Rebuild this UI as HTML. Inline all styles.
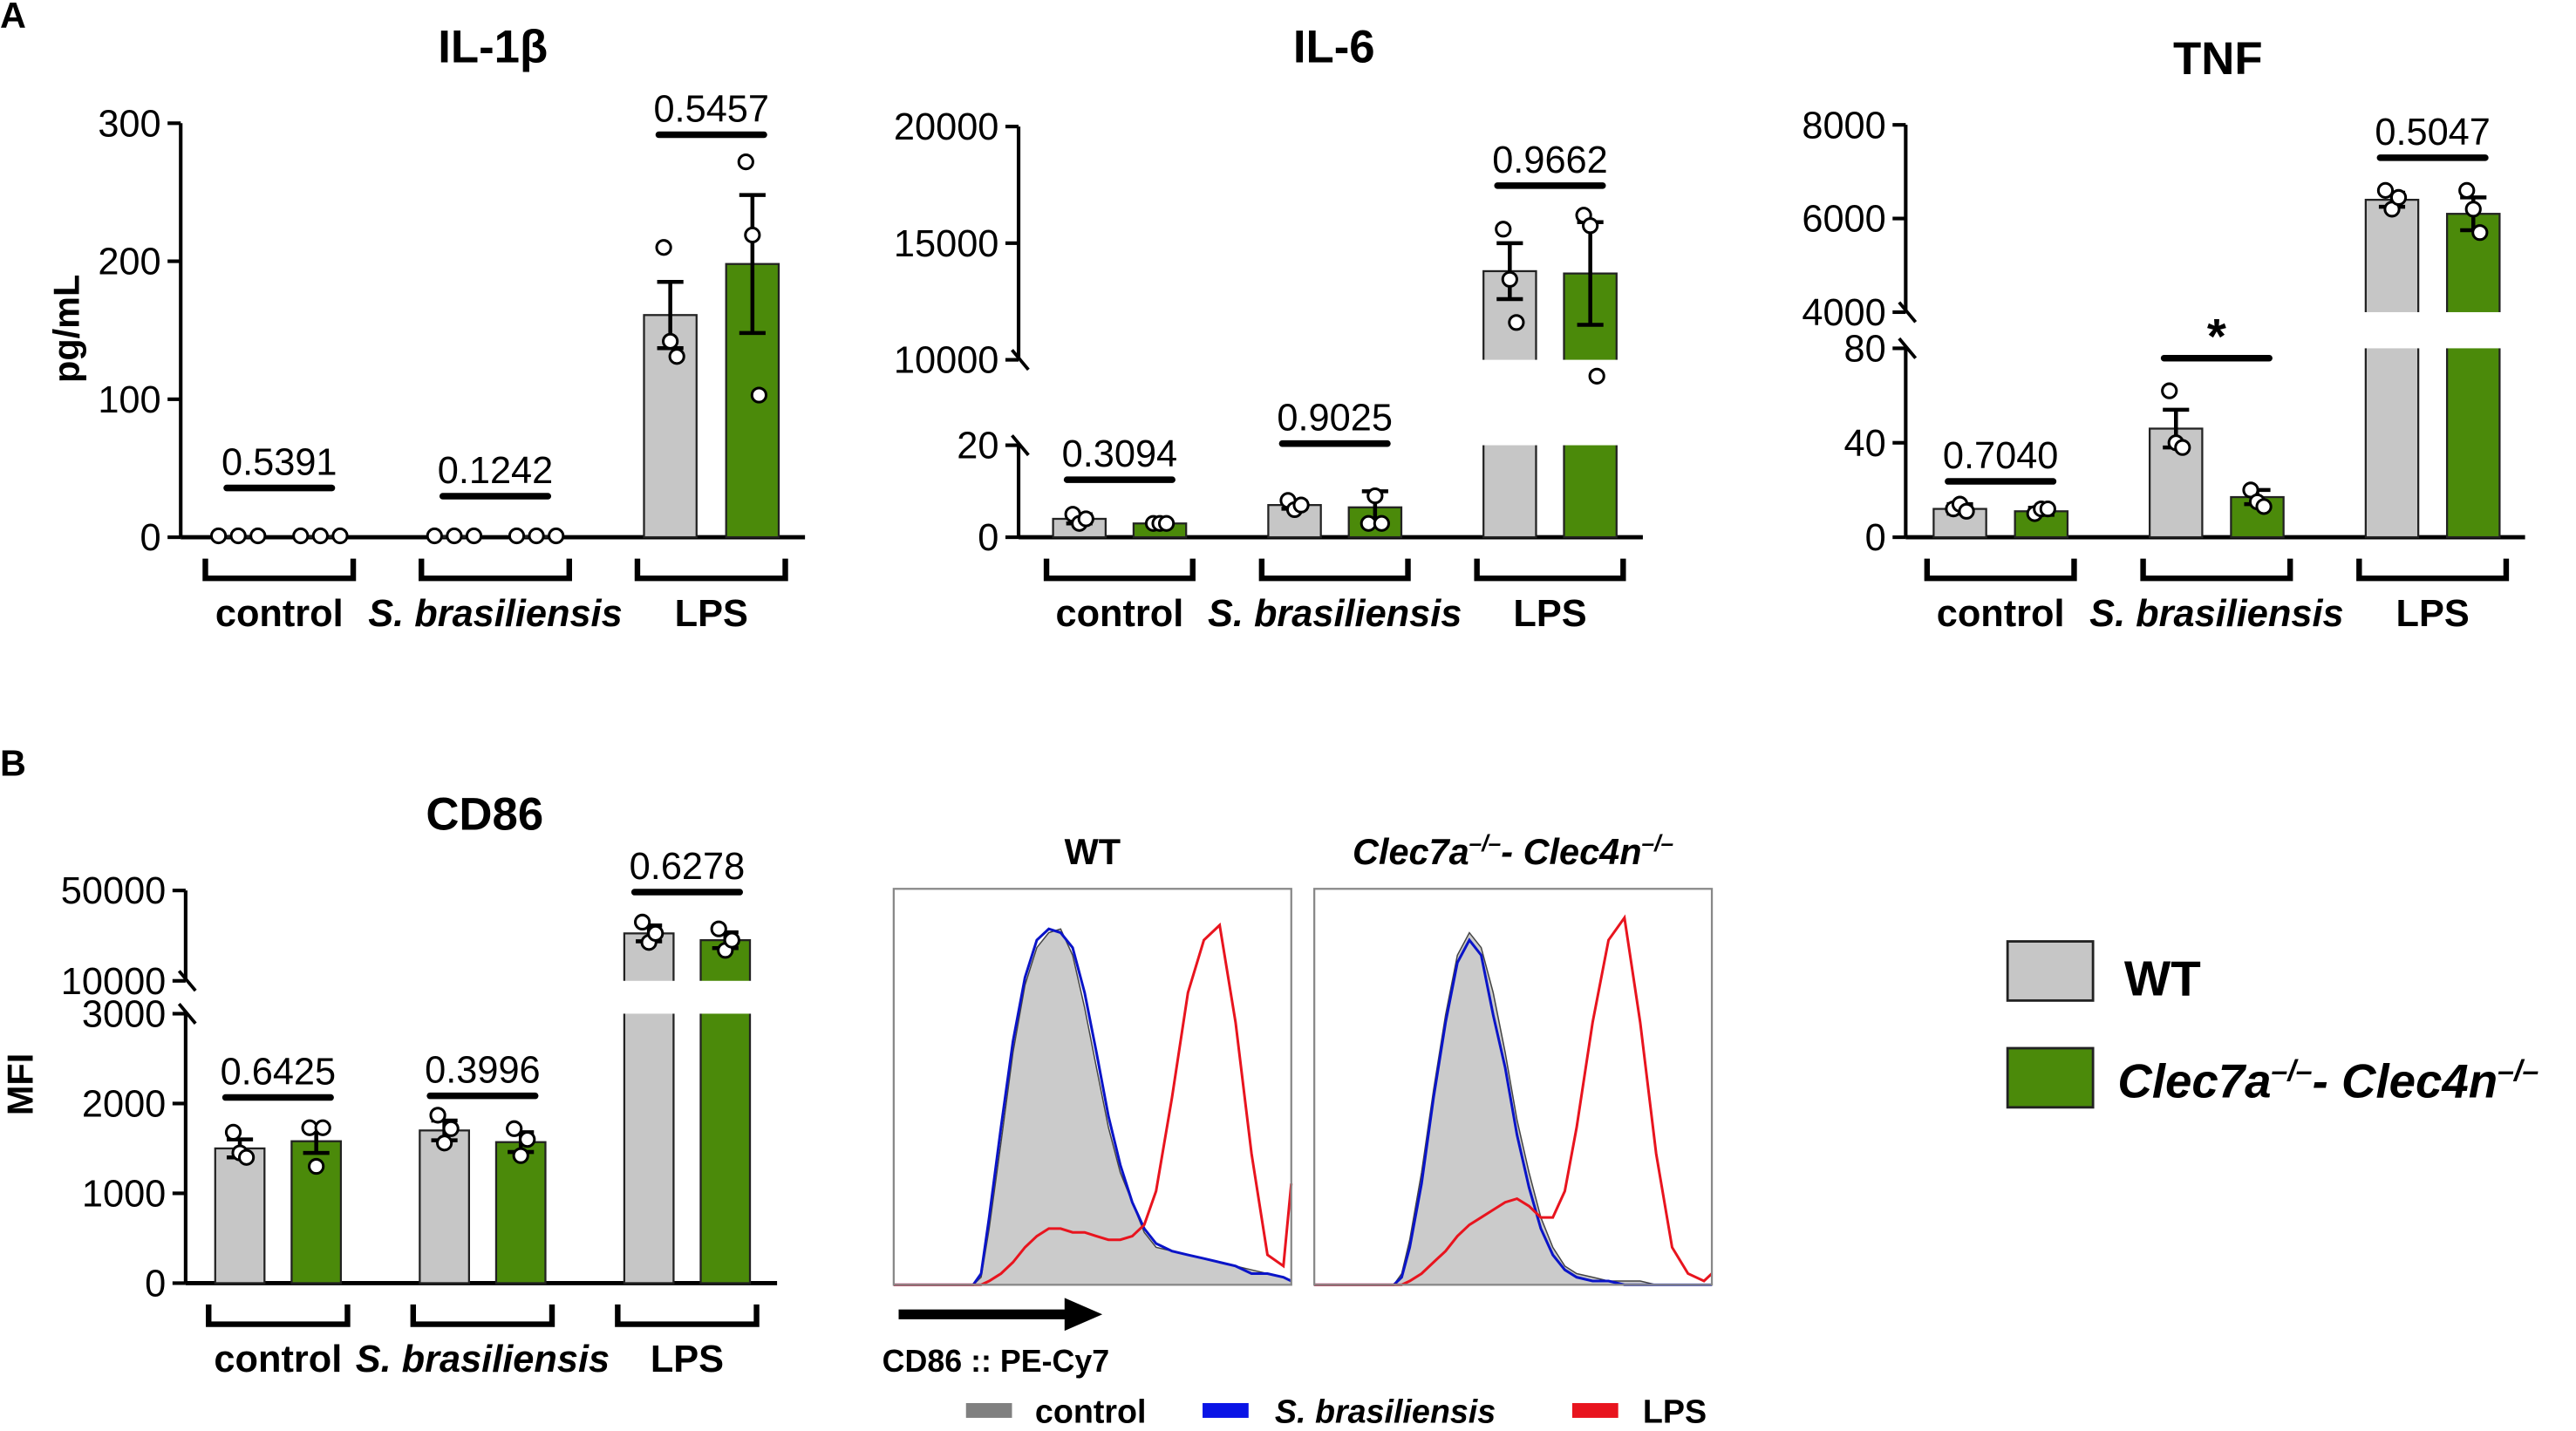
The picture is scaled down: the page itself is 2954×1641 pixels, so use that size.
<!DOCTYPE html>
<html><head><meta charset="utf-8"><style>
html,body{margin:0;padding:0;background:#fff;}
svg{display:block;}
text{font-family:"Liberation Sans Narrow","Liberation Sans",sans-serif;}
</style></head><body>
<svg id="fig" width="2954" height="1641" viewBox="0 0 1568 871" preserveAspectRatio="none" xmlns="http://www.w3.org/2000/svg">
<text x="0" y="17" font-size="22" font-weight="bold" font-family="Liberation Sans">A</text>
<text x="0" y="472" font-size="22" font-weight="bold" font-family="Liberation Sans">B</text>
<g id="charts"></g>
<g id="hists"></g>
</svg>
<script>
// ---------- DATA ----------
const groups = ["control", "S. brasiliensis", "LPS"];
const il1bWT = [1, 1, 161];
const il1bKO = [1, 1, 198];
const il1bWTerr = [0.5, 0.5, 24];
const il1bKOerr = [0.5, 0.5, 50];
const il1bWTpts = [[1,1,1],[1,1,1],[210,142,131]];
const il1bKOpts = [[1,1,1],[1,1,1],[272,219,103]];
const il1bP = ["0.5391","0.1242","0.5457"];
const il1bTicks = [0,100,200,300];

const il6WT = [4, 7, 13800];
const il6KO = [3, 6.5, 13700];
const il6WTerr = [1, 0.8, 1200];
const il6KOerr = [0.5, 3.5, 2200];
const il6WTpts = [[5,3,4],[8,6,7],[15600,13450,11600]];
const il6KOpts = [[3,3,3],[3,9,3],[16200,15750,9300]];
const il6P = ["0.3094","0.9025","0.9662"];
const il6Ticks = [0,20,10000,15000,20000];

const tnfWT = [12, 46, 6400];
const tnfKO = [11, 17, 6100];
const tnfWTerr = [2, 8, 150];
const tnfKOerr = [1.5, 3, 350];
const tnfWTpts = [[12,14,11],[62,40,38],[6600,6200,6450]];
const tnfKOpts = [[10,12,12],[20,15,13],[6600,6200,5700]];
const tnfP = ["0.7040","*","0.5047"];
const tnfTicks = [0,40,80,4000,6000,8000];

const cd86WT = [1500, 1700, 31000];
const cd86KO = [1580, 1570, 28000];
const cd86WTerr = [100, 110, 3500];
const cd86KOerr = [130, 110, 3500];
const cd86WTpts = [[1680,1450,1400],[1870,1560,1720],[36000,27000,31000]];
const cd86KOpts = [[1730,1300,1730],[1720,1420,1600],[33000,23500,28000]];
const cd86P = ["0.6425","0.3996","0.6278"];
const cd86Ticks = [0,1000,2000,3000,10000,50000];

// histogram data: channel (0-100 % of axis) and count (% of max)
const histChannel = [0,20,22,24,27,30,33,36,39,42,45,48,51,54,57,60,63,66,70,74,78,82,86,90,94,98,100];
const wtGray  = [0,0,2,15,38,62,80,90,94,95,88,74,58,42,30,22,14,10,9,8,7,6,5,4,3,2,1];
const wtBlue  = [0,0,3,18,42,65,82,92,95,94,90,78,62,45,32,22,15,11,9,8,7,6,5,3,3,2,1];
const wtRed   = [0,0,0,1,3,6,10,13,15,15,14,14,13,12,12,13,16,25,50,78,92,96,70,35,8,5,27];
const koGray  = [0,0,3,12,30,52,72,88,94,90,78,62,44,30,18,10,5,3,2,1,1,1,0,0,0,0,0];
const koBlue  = [0,0,2,10,27,50,70,86,92,88,72,58,40,26,15,8,4,2,1,1,0,0,0,0,0,0,0];
const koRed   = [0,0,0,1,3,6,9,13,16,18,20,22,23,21,18,18,25,42,70,92,98,70,35,10,3,1,3];

// ---------- DRAWING ----------
const NS = "http://www.w3.org/2000/svg";
const root = document.getElementById("charts");
function el(tag, attrs, parent, txt){
  const e = document.createElementNS(NS, tag);
  for (const k in attrs) e.setAttribute(k, attrs[k]);
  if (txt !== undefined) e.textContent = txt;
  (parent||root).appendChild(e);
  return e;
}
function lin(s, v){ return s.r[0] + (v - s.d[0])/(s.d[1]-s.d[0])*(s.r[1]-s.r[0]); }
function makeScale(segs){
  return function(v){
    for (const s of segs){
      if (v >= s.d[0] && v <= s.d[1]) return lin(s, v);
    }
    const last = segs[segs.length-1];
    if (v > last.d[1]) return lin(last, v);
    for (let i=0;i<segs.length-1;i++){
      if (v > segs[i].d[1] && v < segs[i+1].d[0]) return lin(segs[i+1], v);
    }
    return segs[0].r[0];
  };
}
function drawChart(cfg){
  const g = el("g", {}, root);
  
  
  const y = makeScale(cfg.segs);
  const base = cfg.segs[0].r[0];
  const t = el("text", {x:cfg.titleX, y:cfg.titleY, "font-size":28, "font-weight":"bold", "text-anchor":"middle", "font-family":"Liberation Sans"}, g, cfg.title);
  
  
  if (cfg.ylabel){
    const yl = el("text", {x:0, y:0, "font-size":22, "font-weight":"bold", "text-anchor":"middle", "font-family":"Liberation Sans", transform:`translate(${cfg.ylabelX},${cfg.ylabelY}) rotate(-90)`}, g, cfg.ylabel);
    
    
  }
  cfg.segs.forEach((s,i)=>{
    const top = s.r[1], bot = s.r[0];
    const ax = el("line", {x1:cfg.ax, x2:cfg.ax, y1:(i===0?base:bot), y2:top, stroke:"#000","stroke-width":2.2}, g);
    
    
    if (i>0){
      el("line",{x1:cfg.ax-4,y1:bot-6,x2:cfg.ax+6,y2:bot+6,stroke:"#000","stroke-width":2},g);
      const pb = cfg.segs[i-1].r[1];
      el("line",{x1:cfg.ax-4,y1:pb-6,x2:cfg.ax+6,y2:pb+6,stroke:"#000","stroke-width":2},g);
    }
  });
  cfg.ticks.forEach(v=>{
    const yy = y(v);
    el("line",{x1:cfg.ax-8,x2:cfg.ax,y1:yy,y2:yy,stroke:"#000","stroke-width":2.2},g);
    const tl = el("text",{x:cfg.ax-12,y:yy+8,"font-size":23,"text-anchor":"end"},g,String(v));
    
    
  });
  const xa = el("line",{x1:cfg.ax,x2:cfg.axEnd,y1:base,y2:base,stroke:"#000","stroke-width":2.6},g);
  
  
  const bw = cfg.bw;
  groups.forEach((grp,i)=>{
    const cx0 = cfg.start + i*cfg.gstep;
    const series = [[cfg.wt,cfg.wtErr,cfg.wtPts,"#c6c6c6"],[cfg.ko,cfg.koErr,cfg.koPts,"#4b8a0a"]];
    series.forEach((s,j)=>{
      const cx = cx0 + j*cfg.pair;
      const v = s[0][i];
      const yt = y(v);
      const r = el("rect",{x:cx-bw/2,y:yt,width:bw,height:base-yt,fill:s[3],stroke:"#222","stroke-width":1.2},g);
      
      
      for (let k=0;k<cfg.segs.length-1;k++){
        const g1 = cfg.segs[k].r[1], g2 = cfg.segs[k+1].r[0];
        if (yt < g2) el("rect",{x:cx-bw/2-2,y:g2,width:bw+4,height:g1-g2,fill:"#fff"},g);
      }
      const e = s[1][i];
      if (e > 0.6 || v > 100){
        const y1 = y(v+e), y2 = y(v-e);
        el("line",{x1:cx,x2:cx,y1:y1,y2:y2,stroke:"#000","stroke-width":2.4},g);
        el("line",{x1:cx-8,x2:cx+8,y1:y1,y2:y1,stroke:"#000","stroke-width":2.4},g);
        el("line",{x1:cx-8,x2:cx+8,y1:y2,y2:y2,stroke:"#000","stroke-width":2.4},g);
      }
      s[2][i].forEach((p,k)=>{
        const off = (v < cfg.tinyThresh) ? (k-1)*12 : (k-1)*4;
        const c = el("circle",{cx:cx+off,cy:y(p),r:4.3,fill:"#fff",stroke:"#000","stroke-width":1.6},g);
        
        
      });
    });
    const pl = cfg.pLines[i];
    const cxm = cx0 + cfg.pair/2;
    el("line",{x1:cxm-32,x2:cxm+32,y1:pl,y2:pl,stroke:"#000","stroke-width":4,"stroke-linecap":"round"},g);
    const pt = el("text",{x:cxm,y:cfg.p[i]==="*"?pl-3:pl-8,"font-size":cfg.p[i]==="*"?30:23,"text-anchor":"middle","font-weight":cfg.p[i]==="*"?"bold":"normal"},g,cfg.p[i]);
    
    
    const bl = cx0 - cfg.brL, br = cx0 + cfg.pair + cfg.brL;
    const by = base + cfg.brY;
    el("path",{d:`M${bl},${by} V${by+12} H${br} V${by}`,fill:"none",stroke:"#000","stroke-width":3.4},g);
    const gl = el("text",{x:(bl+br)/2,y:by+41,"font-size":23,"font-weight":"bold","text-anchor":"middle","font-style":i===1?"italic":"normal"},g,grp);
    
    
  });
}

drawChart({name:"il1b-chart",title:"IL-1β",titleX:300,titleY:38,ylabel:"pg/mL",ylabelX:48,ylabelY:200,
  segs:[{d:[0,300],r:[327,75]}],ticks:il1bTicks,ax:110,axEnd:490,bw:32,start:145,gstep:131.5,pair:50,
  wt:il1bWT,ko:il1bKO,wtErr:il1bWTerr,koErr:il1bKOerr,wtPts:il1bWTpts,koPts:il1bKOpts,
  p:il1bP,pLines:[297,302,82],brL:20,brY:13,tinyThresh:5});
drawChart({name:"il6-chart",title:"IL-6",titleX:812,titleY:38,
  segs:[{d:[0,20],r:[327,271]},{d:[10000,20000],r:[219,77]}],ticks:il6Ticks,ax:620,axEnd:1000,bw:32,start:657,gstep:131,pair:49,
  wt:il6WT,ko:il6KO,wtErr:il6WTerr,koErr:il6KOerr,wtPts:il6WTpts,koPts:il6KOpts,
  p:il6P,pLines:[292,270,113],brL:20,brY:13,tinyThresh:0});
drawChart({name:"tnf-chart",title:"TNF",titleX:1350,titleY:45,
  segs:[{d:[0,80],r:[327,212]},{d:[4000,8000],r:[190,76]}],ticks:tnfTicks,ax:1160,axEnd:1537,bw:32,start:1193,gstep:131.5,pair:49.5,
  wt:tnfWT,ko:tnfKO,wtErr:tnfWTerr,koErr:tnfKOerr,wtPts:tnfWTpts,koPts:tnfKOpts,
  p:tnfP,pLines:[293,218,96],brL:20,brY:13,tinyThresh:0});
drawChart({name:"cd86-chart",title:"CD86",titleX:295,titleY:505,ylabel:"MFI",ylabelX:20,ylabelY:660,
  segs:[{d:[0,3000],r:[781,617]},{d:[10000,50000],r:[597,542]}],ticks:cd86Ticks,ax:113,axEnd:473,bw:30,start:146,gstep:124.5,pair:46.5,
  wt:cd86WT,ko:cd86KO,wtErr:cd86WTerr,koErr:cd86KOerr,wtPts:cd86WTpts,koPts:cd86KOpts,
  p:cd86P,pLines:[668,667,543],brL:19,brY:13,tinyThresh:0});

// ---------- HISTOGRAMS ----------
const hroot = document.getElementById("hists");
function histPanel(x0, title, italic, gray, blue, red, name){
  const g = el("g",{},hroot);
  
  
  const W = 242, top = 541, bot = 782, H = 228;
  const hx = c => x0 + c/100*W;
  const hy = v => bot - v/100*H;
  const pts = arr => histChannel.map((c,i)=>`${hx(c).toFixed(1)},${hy(arr[i]).toFixed(1)}`).join(" ");
  el("polygon",{points:`${hx(0)},${bot} ${pts(gray)} ${hx(100)},${bot}`,fill:"#cbcbcb",stroke:"#444","stroke-width":0.8},g);
  const b = el("polyline",{points:pts(blue),fill:"none",stroke:"#0a14c8","stroke-width":1.6},g);
  
  
  const r = el("polyline",{points:pts(red),fill:"none",stroke:"#e8141e","stroke-width":1.6},g);
  
  
  el("rect",{x:x0,y:top,width:W,height:bot-top,fill:"none",stroke:"#888","stroke-width":1.2},g);
  const t = el("text",{x:x0+W/2,y:526,"font-size":22,"font-weight":"bold","text-anchor":"middle","font-style":italic?"italic":"normal","font-family":"Liberation Sans"},g);
  
  
  t.innerHTML = title;
}
histPanel(544,"WT",false,wtGray,wtBlue,wtRed,"histogram-wt");
histPanel(800,'Clec7a<tspan dy="-8" font-size="14">–/–</tspan><tspan dy="8">- Clec4n</tspan><tspan dy="-8" font-size="14">–/–</tspan>',true,koGray,koBlue,koRed,"histogram-ko");
</script>
<svg style="position:absolute;left:0;top:0" width="2954" height="1641" viewBox="0 0 1568 871" preserveAspectRatio="none" xmlns="http://www.w3.org/2000/svg">
<g>
<line x1="547" y1="800" x2="652" y2="800" stroke="#000" stroke-width="6"/>
<polygon points="648,790 671,800 648,810" fill="#000"/>
</g>
<text x="537" y="835" font-size="19" font-weight="bold" font-family="Liberation Sans">CD86 :: PE-Cy7</text>
<g>
<rect x="588" y="854" width="28" height="9" fill="#808080"/>
<text x="630" y="866" font-size="20" font-weight="bold" font-family="Liberation Sans">control</text>
<rect x="732" y="854" width="28" height="9" fill="#0a14e6"/>
<text x="776" y="866" font-size="20" font-weight="bold" font-style="italic" font-family="Liberation Sans">S. brasiliensis</text>
<rect x="957" y="854" width="28" height="9" fill="#e8141e"/>
<text x="1000" y="866" font-size="20" font-weight="bold" font-family="Liberation Sans">LPS</text>
</g>
<g>
<rect x="1222" y="573" width="52" height="36" fill="#c6c6c6" stroke="#222" stroke-width="1.5"/>
<text x="1293" y="606" font-size="30" font-weight="bold" font-family="Liberation Sans">WT</text>
<rect x="1222" y="638" width="52" height="36" fill="#4b8a0a" stroke="#222" stroke-width="1.5"/>
<text x="1289" y="668" font-size="29" font-weight="bold" font-style="italic" font-family="Liberation Sans">Clec7a<tspan dy="-10" font-size="18">–/–</tspan><tspan dy="10">- Clec4n</tspan><tspan dy="-10" font-size="18">–/–</tspan></text>
</g>
</svg>
</body></html>
